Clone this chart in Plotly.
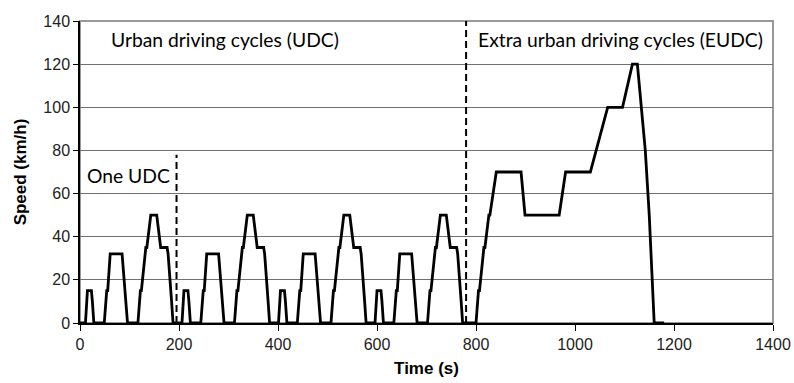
import plotly.graph_objects as go

# --- Data (NEDC driving cycle) ---
udc_time = [0, 11, 15, 23, 25, 28, 49, 54, 56, 61, 85, 93, 96, 117, 122, 124,
            133, 135, 143, 155, 163, 176, 178, 185, 188, 195]
udc_speed = [0, 0, 15, 15, 10, 0, 0, 15, 15, 32, 32, 10, 0, 0, 15, 15,
             35, 35, 50, 50, 35, 35, 32, 10, 0, 0]
udc_starts = [0, 195, 390, 585]

eudc_start = 780
eudc_time = [0, 20, 25, 27, 36, 38, 46, 48, 61, 111, 119, 188, 201, 251,
             286, 316, 336, 346, 362, 370, 380, 400]
eudc_speed = [0, 0, 15, 15, 35, 35, 50, 50, 70, 70, 50, 50, 70, 70,
              100, 100, 120, 120, 80, 50, 0, 0]

one_udc_marker = 195
one_udc_marker_top = 78
eudc_marker = 780

x_ticks = [0, 200, 400, 600, 800, 1000, 1200, 1400]
y_ticks = [0, 20, 40, 60, 80, 100, 120, 140]

# build series
t_all, v_all = [], []
for s in udc_starts:
    for t, v in zip(udc_time, udc_speed):
        t_all.append(s + t)
        v_all.append(v)
for t, v in zip(eudc_time, eudc_speed):
    t_all.append(eudc_start + t)
    v_all.append(v)

fig = go.Figure()
fig.add_trace(go.Scatter(x=t_all, y=v_all, mode="lines",
                         line=dict(color="black", width=2.8),
                         hoverinfo="skip", showlegend=False))

tick_font = dict(family="Liberation Sans, Arial, sans-serif", size=16, color="#222")
title_font = dict(family="Liberation Sans, Arial, sans-serif", size=17, color="black")
ann_font = dict(family="Lato, Carlito, sans-serif", size=19.3, color="black")

fig.update_layout(
    width=794, height=383,
    margin=dict(l=80, r=21, t=21, b=60, autoexpand=False),
    plot_bgcolor="white", paper_bgcolor="white",
    xaxis=dict(range=[0, 1400], tickvals=x_ticks, showgrid=False, zeroline=False,
               automargin=False,
               showline=True, linecolor="black", linewidth=1.5,
               ticks="outside", ticklen=6, tickcolor="black", tickwidth=1,
               tickfont=tick_font,
               title=dict(text="<b>Time (s)</b>", font=title_font, standoff=10)),
    yaxis=dict(range=[0, 140], tickvals=y_ticks, showgrid=True, gridcolor="#707070",
               gridwidth=1, zeroline=False, automargin=False,
               showline=True, linecolor="black", linewidth=1.5,
               ticks="outside", ticklen=5, tickcolor="black", tickwidth=1,
               tickfont=tick_font,
               title=dict(text="<b>Speed (km/h)</b>", font=title_font, standoff=12)),
    shapes=[
        dict(type="rect", xref="paper", yref="paper", x0=0, x1=1, y0=0, y1=1,
             line=dict(color="#999999", width=2), layer="below"),
        dict(type="line", xref="x", yref="y", x0=eudc_marker, x1=eudc_marker,
             y0=0, y1=140, line=dict(color="black", width=2, dash="7px,4px")),
        dict(type="line", xref="x", yref="y", x0=one_udc_marker, x1=one_udc_marker,
             y0=0, y1=one_udc_marker_top, line=dict(color="black", width=2, dash="7px,4px")),
    ],
    annotations=[
        dict(text="Urban driving cycles (UDC)", x=59, y=131.5, xref="x", yref="y",
             xanchor="left", yanchor="middle", showarrow=False, font=ann_font),
        dict(text="Extra urban driving cycles (EUDC)", x=799, y=131.5, xref="x", yref="y",
             xanchor="left", yanchor="middle", showarrow=False, font=ann_font),
        dict(text="One UDC", x=10, y=68.5, xref="x", yref="y",
             xanchor="left", yanchor="middle", showarrow=False, font=ann_font),
    ],
)

fig.write_html("out.html")
